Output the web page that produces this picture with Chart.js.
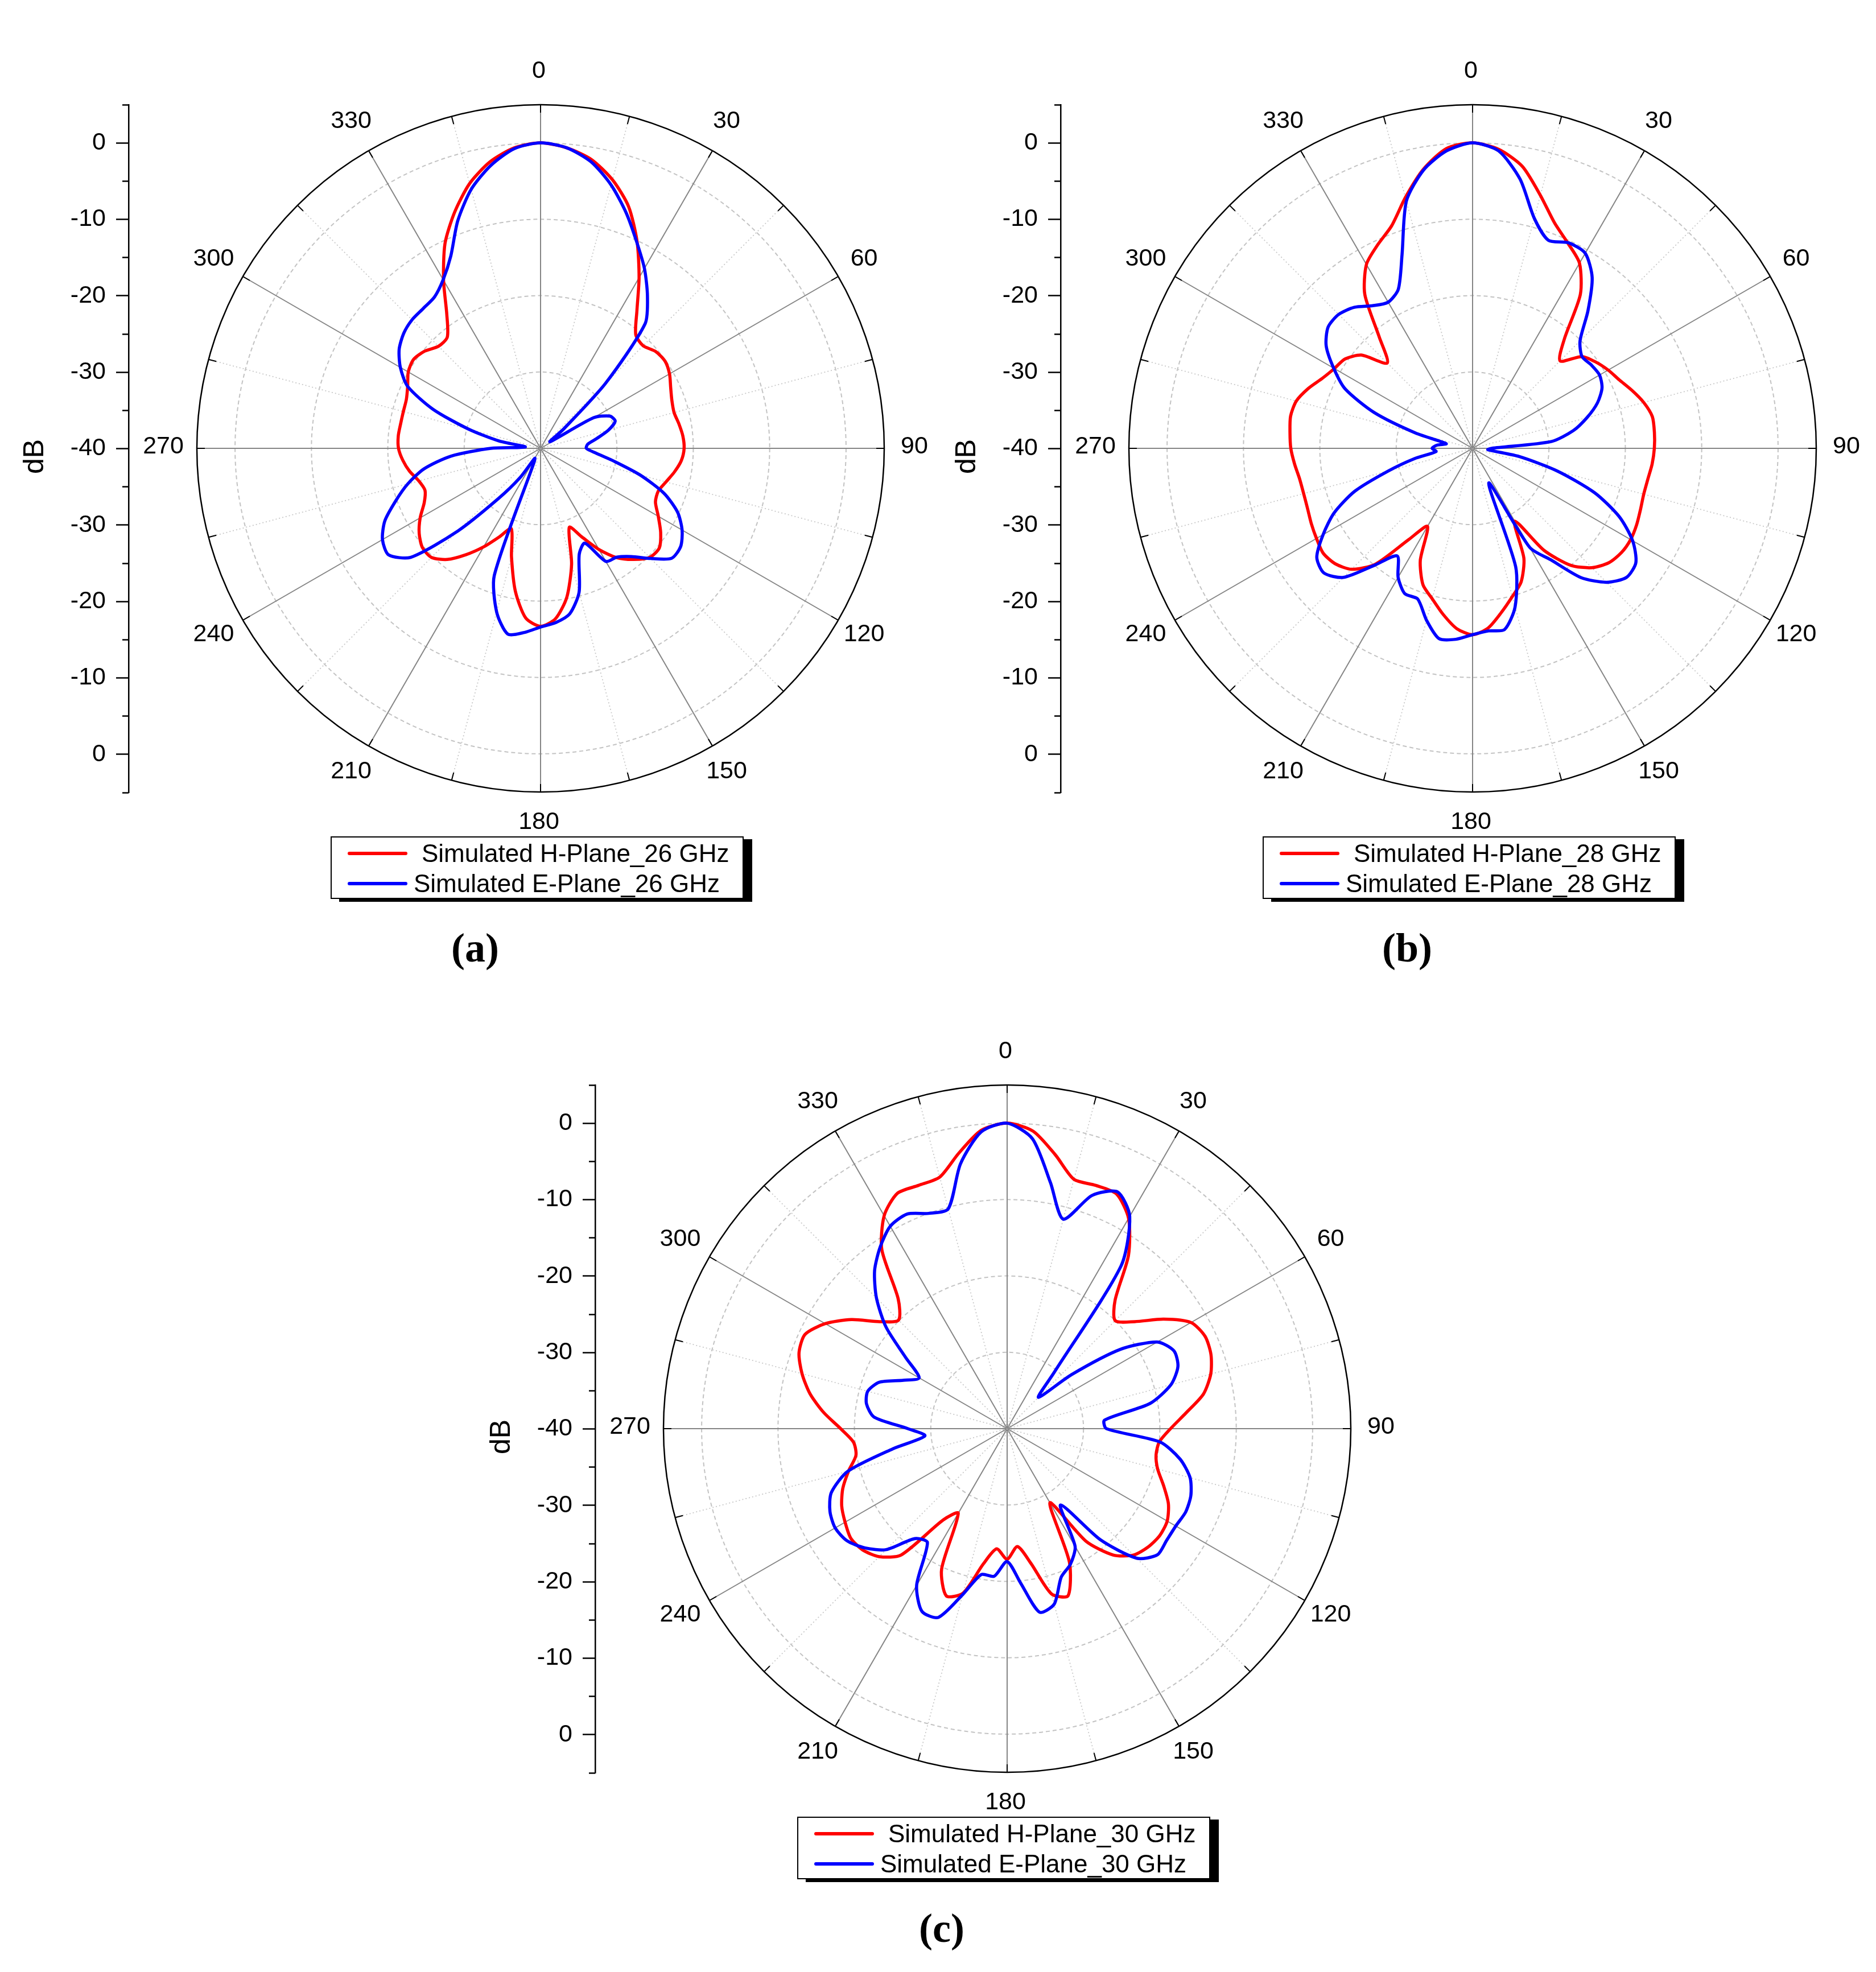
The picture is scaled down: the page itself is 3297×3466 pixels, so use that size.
<!DOCTYPE html>
<html>
<head>
<meta charset="utf-8">
<title>Simulated radiation patterns</title>
<script src="https://cdn.jsdelivr.net/npm/chart.js@4.4.1/dist/chart.umd.min.js"></script>
<style>
html, body { margin: 0; padding: 0; background: #fff; width: 3297px; height: 3466px; overflow: hidden; }
.panel { position: absolute; width: 1674px; height: 1720px; }
.panel canvas { position: absolute; left: 0; top: 0; }
.legend { position: absolute; left: 581px; top: 1470px; width: 726px; height: 110px; box-sizing: border-box;
  border: 2px solid #000; background: #fff; box-shadow: 15px 5px 0 #000;
  font-family: "Liberation Sans", Arial, sans-serif; font-size: 44px; color: #000; }
.legend .swatch { position: absolute; left: 28px; width: 105px; height: 6px; border-radius: 3px; }
.legend .txt { position: absolute; white-space: nowrap; line-height: 1; }
.caption { position: absolute; left: 735px; width: 200px; top: 1630px; text-align: center; line-height: 1;
  font-family: "Liberation Serif", "Times New Roman", serif; font-weight: bold; font-size: 72px; color: #000; }
</style>
</head>
<body>

<div class="panel" style="left:0px; top:0px;">
  <canvas id="chart-a" width="1674" height="1493"></canvas>
  <div class="legend">
    <div class="swatch" style="top:25px; background:#ff0000;"></div>
    <div class="txt" style="left:158px; top:6px;">Simulated H-Plane_26 GHz</div>
    <div class="swatch" style="top:78px; background:#0000ff;"></div>
    <div class="txt" style="left:144px; top:59px;">Simulated E-Plane_26 GHz</div>
  </div>
  <div class="caption">(a)</div>
</div>

<div class="panel" style="left:1638px; top:0px;">
  <canvas id="chart-b" width="1674" height="1493"></canvas>
  <div class="legend">
    <div class="swatch" style="top:25px; background:#ff0000;"></div>
    <div class="txt" style="left:158px; top:6px;">Simulated H-Plane_28 GHz</div>
    <div class="swatch" style="top:78px; background:#0000ff;"></div>
    <div class="txt" style="left:144px; top:59px;">Simulated E-Plane_28 GHz</div>
  </div>
  <div class="caption">(b)</div>
</div>

<div class="panel" style="left:820px; top:1723px;">
  <canvas id="chart-c" width="1674" height="1493"></canvas>
  <div class="legend">
    <div class="swatch" style="top:25px; background:#ff0000;"></div>
    <div class="txt" style="left:158px; top:6px;">Simulated H-Plane_30 GHz</div>
    <div class="swatch" style="top:78px; background:#0000ff;"></div>
    <div class="txt" style="left:144px; top:59px;">Simulated E-Plane_30 GHz</div>
  </div>
  <div class="caption">(c)</div>
</div>

<script>
// angle categories (deg, clockwise from top)
const ANGLES = [0, 5, 10, 15, 20, 25, 30, 35, 40, 45, 50, 55, 60, 65, 70, 75, 80, 85,
  90, 95, 100, 105, 110, 115, 120, 125, 130, 135, 140, 145, 150, 155, 160, 165, 170, 175,
  180, 185, 190, 195, 200, 205, 210, 215, 220, 225, 230, 235, 240, 245, 250, 255, 260, 265,
  270, 275, 280, 285, 290, 295, 300, 305, 310, 315, 320, 325, 330, 335, 340, 345, 350, 355];
const ANGLE_TICKS = [0, 30, 60, 90, 120, 150, 180, 210, 240, 270, 300, 330];
const R_GRID = [-40, -30, -20, -10, 0, 5];
// left dB axis (mirrored, -40 at the centre)
const Y_MAJOR = [0, -10, -20, -30, -40, -50, -60, -70, -80];
const Y_MAJOR_LABELS = ['0', '-10', '-20', '-30', '-40', '-30', '-20', '-10', '0'];
const Y_MINOR = [5, -5, -15, -25, -35, -45, -55, -65, -75, -85];

// 26 GHz
const h26 = [0, -0.5, -1.6, -3.6, -6.3, -10.1, -14.2, -18.0, -20.6, -21.0,
  -20.3, -20.1, -20.5, -21.2, -21.7, -21.9, -21.6, -21.3, -21.2, -21.5,
  -22.2, -23.0, -23.6, -23.4, -22.2, -20.8, -19.7, -19.8, -21.0, -22.5,
  -24.7, -27.2, -29.0, -24.3, -20.2, -17.6, -16.7, -17.7, -21.0, -25.3,
  -28.8, -27.2, -25.1, -23.0, -21.0, -19.8, -19.8, -20.6, -21.8, -23.2,
  -23.9, -23.5, -22.6, -21.9, -21.4, -21.3, -21.4, -21.4, -21.3, -20.8,
  -20.0, -19.7, -20.2, -21.1, -21.0, -18.6, -14.6, -10.4, -7.1, -4.1,
  -1.9, -0.5];
const e26 = [0, -0.5, -1.9, -4.3, -7.2, -10.2, -12.8, -15.6, -18.7, -28.0,
  -36.0, -38.5, -32.0, -30.0, -29.6, -30.8, -32.5, -33.8, -34.0, -32.7,
  -30.2, -26.5, -22.8, -20.2, -18.6, -17.6, -17.6, -19.6, -21.5, -22.6,
  -22.9, -26.3, -25.2, -20.5, -18.0, -17.1, -16.6, -15.8, -15.3, -17.8,
  -22.3, -38.0, -38.5, -35.3, -31.4, -24.7, -17.8, -15.7, -16.1, -17.5,
  -19.8, -22.0, -24.5, -28.2, -33.5, -38.0, -34.5, -30.2, -25.0, -20.8,
  -18.8, -17.4, -16.6, -16.2, -16.1, -15.8, -14.5, -12.2, -8.3, -4.9,
  -2.4, -0.6];

// 28 GHz
const h28 = [0, -0.7, -2.5, -5.7, -8.6, -10.4, -12.0, -15.4, -21.3, -23.8,
  -21.3, -20.3, -19.5, -18.8, -17.8, -16.8, -16.1, -16.1, -16.2, -16.4,
  -16.7, -16.8, -16.6, -16.3, -16.1, -16.2, -16.7, -17.9, -20.0, -23.7,
  -29.0, -24.1, -21.4, -19.9, -18.2, -16.4, -15.6, -16.3, -17.9, -19.6,
  -21.0, -23.8, -28.2, -25.4, -20.2, -17.6, -16.5, -16.1, -16.4, -16.7,
  -17.0, -17.1, -17.0, -16.6, -16.2, -16.0, -15.8, -16.1, -17.1, -18.3,
  -19.1, -19.6, -21.0, -24.2, -21.0, -15.4, -12.2, -10.6, -9.0, -6.0,
  -2.9, -0.6];
const e28 = [0, -0.9, -4.2, -8.8, -11.0, -10.3, -10.5, -12.7, -16.5, -20.1,
  -21.3, -21.0, -20.8, -21.3, -22.6, -24.5, -26.6, -29.6, -37.5, -38.0,
  -33.8, -28.5, -23.0, -18.8, -15.8, -13.9, -13.7, -15.2, -17.9, -22.2,
  -25.0, -35.0, -23.5, -18.5, -15.9, -16.0, -15.6, -14.9, -14.7, -16.7,
  -19.0, -19.0, -20.5, -22.8, -20.0, -16.1, -14.6, -15.1, -17.4, -20.0,
  -23.6, -28.6, -32.3, -35.2, -34.7, -35.3, -36.5, -32.3, -26.3, -21.6,
  -19.0, -16.6, -15.3, -15.2, -15.9, -17.2, -17.9, -17.0, -13.0, -6.5,
  -3.0, -0.9];

// 30 GHz
const h30 = [0, -0.9, -3.6, -6.2, -6.1, -6.1, -8.2, -12.3, -18.0, -20.0,
  -18.2, -15.0, -12.2, -11.4, -11.6, -12.4, -13.9, -16.5, -18.6, -20.0,
  -20.2, -19.6, -18.2, -16.7, -15.8, -15.6, -15.9, -16.6, -18.4, -22.0,
  -28.8, -20.7, -16.7, -17.6, -22.1, -24.5, -22.9, -24.2, -22.0, -17.7,
  -16.7, -19.7, -27.2, -25.4, -18.4, -16.3, -15.3, -15.0, -15.5, -16.1,
  -17.1, -18.5, -19.9, -19.8, -18.2, -15.9, -13.8, -12.2, -11.0, -10.8,
  -12.5, -15.1, -18.2, -19.9, -17.8, -11.4, -7.8, -6.0, -6.1, -5.9,
  -3.4, -0.8];
const e30 = [0, -1.9, -7.3, -11.6, -7.5, -5.8, -7.9, -14.0, -30.5, -34.2,
  -29.0, -21.9, -17.3, -15.9, -16.2, -17.8, -21.0, -27.2, -27.0, -19.9,
  -17.0, -15.2, -14.4, -14.2, -14.5, -14.5, -14.3, -16.0, -21.0, -27.8,
  -22.2, -20.4, -19.3, -16.2, -15.6, -19.7, -22.6, -20.6, -20.6, -17.5,
  -13.7, -13.6, -16.3, -21.8, -21.2, -17.6, -15.7, -14.4, -14.0, -14.4,
  -15.5, -18.4, -24.8, -29.2, -27.0, -22.5, -21.3, -21.1, -22.2, -25.0,
  -26.7, -23.8, -19.3, -15.8, -13.0, -11.0, -9.4, -9.0, -10.0, -10.2,
  -4.8, -1.0];

Chart.defaults.font.family = '"Liberation Sans", Arial, sans-serif';
Chart.defaults.color = '#000';

// outer-ring ticks and angle labels, placed through the radial scale
const polar_deco = {
    id: 'polar_deco',
    afterDraw(chart) {
        let r = chart.scales.r;
        let c = chart.ctx;
        c.save();
        c.strokeStyle = '#000';
        c.lineWidth = 2;
        for (let i = 0; i < ANGLES.length; i++) {
            if (ANGLES[i] % 15 !== 0) continue;
            let p1 = r.getPointPosition(i, r.drawingArea);
            let p2 = r.getPointPosition(i, r.drawingArea - 14);
            c.beginPath();
            c.moveTo(p1.x, p1.y);
            c.lineTo(p2.x, p2.y);
            c.stroke();
        }
        c.fillStyle = '#000';
        c.font = '43px "Liberation Sans", Arial, sans-serif';
        c.textAlign = 'center';
        c.textBaseline = 'middle';
        ANGLE_TICKS.forEach((a) => {
            let p = r.getPointPosition(ANGLES.indexOf(a), r.drawingArea + 56);
            c.fillText(String(a), p.x - 3, p.y - 3);
        });
        c.restore();
    }
};

function draw_panel(canvas_id, h_data, e_data) {
    let ctx = document.getElementById(canvas_id);
    let chart = new Chart(ctx, {
        type: 'radar',
        data: {
            labels: ANGLES.map(String),
            datasets: [
                {
                    label: 'H-Plane',
                    data: h_data,
                    borderColor: '#ff0000',
                    backgroundColor: 'rgba(0,0,0,0)',
                    fill: false,
                    order: 2,
                },
                {
                    label: 'E-Plane',
                    data: e_data,
                    borderColor: '#0000ff',
                    backgroundColor: 'rgba(0,0,0,0)',
                    fill: false,
                    order: 1,
                }
            ],
        },
        options: {
            responsive: false,
            animation: false,
            devicePixelRatio: 1,
            layout: { padding: { top: 184, bottom: 100, left: 0, right: 0 } },
            elements: {
                point: { radius: 0, hoverRadius: 0 },
                line: { borderWidth: 5.5, tension: 0.25, borderJoinStyle: 'round', borderCapStyle: 'round' },
            },
            plugins: {
                legend: { display: false },
                tooltip: { enabled: false },
            },
            scales: {
                r: {
                    min: -40,
                    max: 5,
                    afterBuildTicks: (s) => { s.ticks = R_GRID.map((v) => ({ value: v })); },
                    ticks: { display: false },
                    pointLabels: { display: false },
                    grid: {
                        circular: true,
                        color: (c) => c.tick.value === 5 ? '#000' : (c.tick.value === -40 ? 'rgba(0,0,0,0)' : '#c3c3c3'),
                        lineWidth: (c) => c.tick.value === 5 ? 2.5 : 2,
                    },
                    border: { dash: (c) => c.tick && c.tick.value === 5 ? [] : [7, 5] },
                    angleLines: {
                        display: true,
                        color: (c) => ANGLES[c.index] % 30 === 0 ? '#858585' : (ANGLES[c.index] % 15 === 0 ? '#c8c8c8' : 'rgba(0,0,0,0)'),
                        lineWidth: (c) => ANGLES[c.index] % 30 === 0 ? 2 : (ANGLES[c.index] % 15 === 0 ? 1.8 : 0),
                        borderDash: (c) => ANGLES[c.index] % 30 === 0 ? [] : [2, 4],
                    },
                },
                y: {
                    type: 'linear',
                    axis: 'y',
                    position: 'left',
                    weight: 1,
                    min: -85,
                    max: 5,
                    afterBuildTicks: (s) => { s.ticks = Y_MAJOR.map((v) => ({ value: v })); },
                    afterFit: (s) => { s.width = 226; },
                    ticks: {
                        autoSkip: false,
                        padding: 18,
                        color: '#000',
                        font: { size: 43 },
                        callback: (v) => Y_MAJOR_LABELS[Y_MAJOR.indexOf(v)],
                    },
                    grid: { drawOnChartArea: false, drawTicks: true, tickLength: 22, tickColor: '#000', tickWidth: 2.5 },
                    border: { display: true, color: '#000', width: 2.5 },
                    title: { display: true, text: 'dB  ', color: '#000', font: { size: 50 }, padding: { top: 32, bottom: 0 } },
                },
                y2: {
                    type: 'linear',
                    axis: 'y',
                    position: 'left',
                    weight: 0,
                    min: -85,
                    max: 5,
                    afterBuildTicks: (s) => { s.ticks = Y_MINOR.map((v) => ({ value: v })); },
                    afterFit: (s) => { s.width = 0; },
                    ticks: { display: false },
                    grid: { drawOnChartArea: false, drawTicks: true, tickLength: 11, tickColor: '#000', tickWidth: 2.5 },
                    border: { display: false },
                },
            },
        },
        plugins: [polar_deco],
    });
    return chart;
}

draw_panel('chart-a', h26, e26);
draw_panel('chart-b', h28, e28);
draw_panel('chart-c', h30, e30);
</script>
</body>
</html>
